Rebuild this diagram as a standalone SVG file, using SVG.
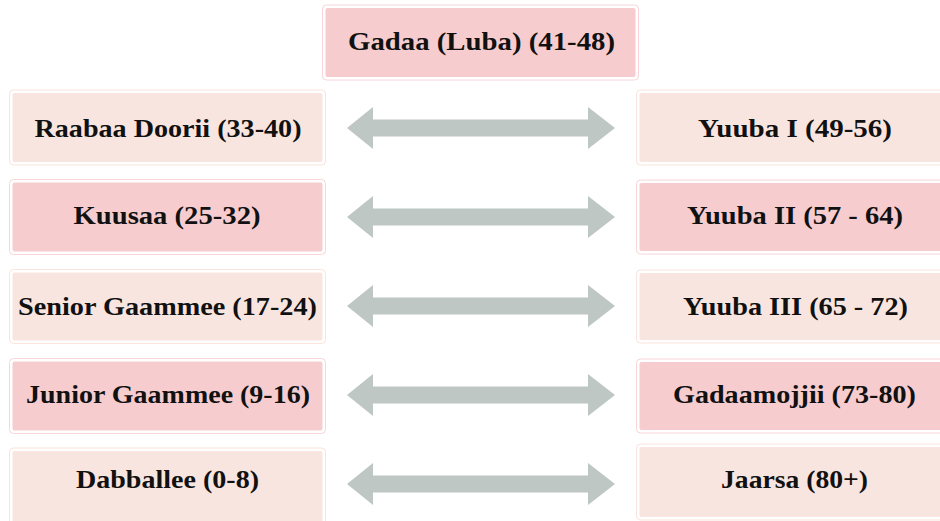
<svg xmlns="http://www.w3.org/2000/svg" width="940" height="521" viewBox="0 0 940 521">
<style>
.pk{fill:#F6CCCF;stroke:#fff;stroke-width:2}
.pc{fill:#F9E5DF;stroke:#fff;stroke-width:2}
.pkb{fill:none;stroke:#F8D5D8;stroke-width:1}
.pcb{fill:none;stroke:#FAE3DC;stroke-width:1}
.t{font-family:"Liberation Serif","DejaVu Serif",serif;font-weight:bold;font-size:26px;fill:#111;text-anchor:middle}
.ar{fill:#BEC7C4}
</style>
<rect width="940" height="521" fill="#fff"/>
<g id="connectors">
<polygon class="ar" points="347,128 373,107 373,119.5 588,119.5 588,107 615,128 588,149 588,136.5 373,136.5 373,149"/>
<polygon class="ar" points="347,217 373,196 373,208.5 588,208.5 588,196 615,217 588,238 588,225.5 373,225.5 373,238"/>
<polygon class="ar" points="347,306 373,285 373,297.5 588,297.5 588,285 615,306 588,327 588,314.5 373,314.5 373,327"/>
<polygon class="ar" points="347,395 373,374 373,386.5 588,386.5 588,374 615,395 588,416 588,403.5 373,403.5 373,416"/>
<polygon class="ar" points="347,484 373,463 373,475.5 588,475.5 588,463 615,484 588,505 588,492.5 373,492.5 373,505"/>
</g>
<g id="gadaa">
<rect class="pkb" x="322.5" y="5" width="316" height="75" rx="4"/>
<rect class="pk" x="324.5" y="7" width="312" height="71" rx="3"/>
<text class="t" x="481.5" y="49.5" textLength="267" lengthAdjust="spacingAndGlyphs">Gadaa (Luba) (41-48)</text>
</g>
<g id="raabaa">
<rect class="pcb" x="9.5" y="90" width="316" height="75" rx="4"/>
<rect class="pc" x="11.5" y="92" width="312" height="71" rx="3"/>
<text class="t" x="168" y="137" textLength="267" lengthAdjust="spacingAndGlyphs">Raabaa Doorii (33-40)</text>
</g>
<g id="kuusaa">
<rect class="pkb" x="9.5" y="179.5" width="316" height="75" rx="4"/>
<rect class="pk" x="11.5" y="181.5" width="312" height="71" rx="3"/>
<text class="t" x="167" y="223.5" textLength="187" lengthAdjust="spacingAndGlyphs">Kuusaa (25-32)</text>
</g>
<g id="senior">
<rect class="pcb" x="9.5" y="269.5" width="316" height="74" rx="4"/>
<rect class="pc" x="11.5" y="271.5" width="312" height="70" rx="3"/>
<text class="t" x="167.5" y="315" textLength="299" lengthAdjust="spacingAndGlyphs">Senior Gaammee (17-24)</text>
</g>
<g id="junior">
<rect class="pkb" x="9.5" y="358.5" width="316" height="75" rx="4"/>
<rect class="pk" x="11.5" y="360.5" width="312" height="71" rx="3"/>
<text class="t" x="168" y="403" textLength="284" lengthAdjust="spacingAndGlyphs">Junior Gaammee (9-16)</text>
</g>
<g id="dabballee">
<rect class="pcb" x="9.5" y="448" width="316" height="78" rx="4"/>
<rect class="pc" x="11.5" y="450" width="312" height="74" rx="3"/>
<text class="t" x="167.5" y="488" textLength="183" lengthAdjust="spacingAndGlyphs">Dabballee (0-8)</text>
</g>
<g id="yuuba1">
<rect class="pcb" x="636.5" y="90" width="316" height="75" rx="4"/>
<rect class="pc" x="638.5" y="92" width="312" height="71" rx="3"/>
<text class="t" x="795" y="137" textLength="194" lengthAdjust="spacingAndGlyphs">Yuuba I (49-56)</text>
</g>
<g id="yuuba2">
<rect class="pkb" x="636.5" y="180" width="316" height="74" rx="4"/>
<rect class="pk" x="638.5" y="182" width="312" height="70" rx="3"/>
<text class="t" x="795" y="223.5" textLength="216" lengthAdjust="spacingAndGlyphs">Yuuba II (57 - 64)</text>
</g>
<g id="yuuba3">
<rect class="pcb" x="636.5" y="270" width="316" height="73" rx="4"/>
<rect class="pc" x="638.5" y="272" width="312" height="69" rx="3"/>
<text class="t" x="795.5" y="315" textLength="225" lengthAdjust="spacingAndGlyphs">Yuuba III (65 - 72)</text>
</g>
<g id="gadaamojjii">
<rect class="pkb" x="636.5" y="359" width="316" height="74" rx="4"/>
<rect class="pk" x="638.5" y="361" width="312" height="70" rx="3"/>
<text class="t" x="794.5" y="403" textLength="243" lengthAdjust="spacingAndGlyphs">Gadaamojjii (73-80)</text>
</g>
<g id="jaarsa">
<rect class="pcb" x="636.5" y="444" width="316" height="76" rx="4"/>
<rect class="pc" x="638.5" y="446" width="312" height="72" rx="3"/>
<text class="t" x="794.5" y="488" textLength="147" lengthAdjust="spacingAndGlyphs">Jaarsa (80+)</text>
</g>
</svg>
